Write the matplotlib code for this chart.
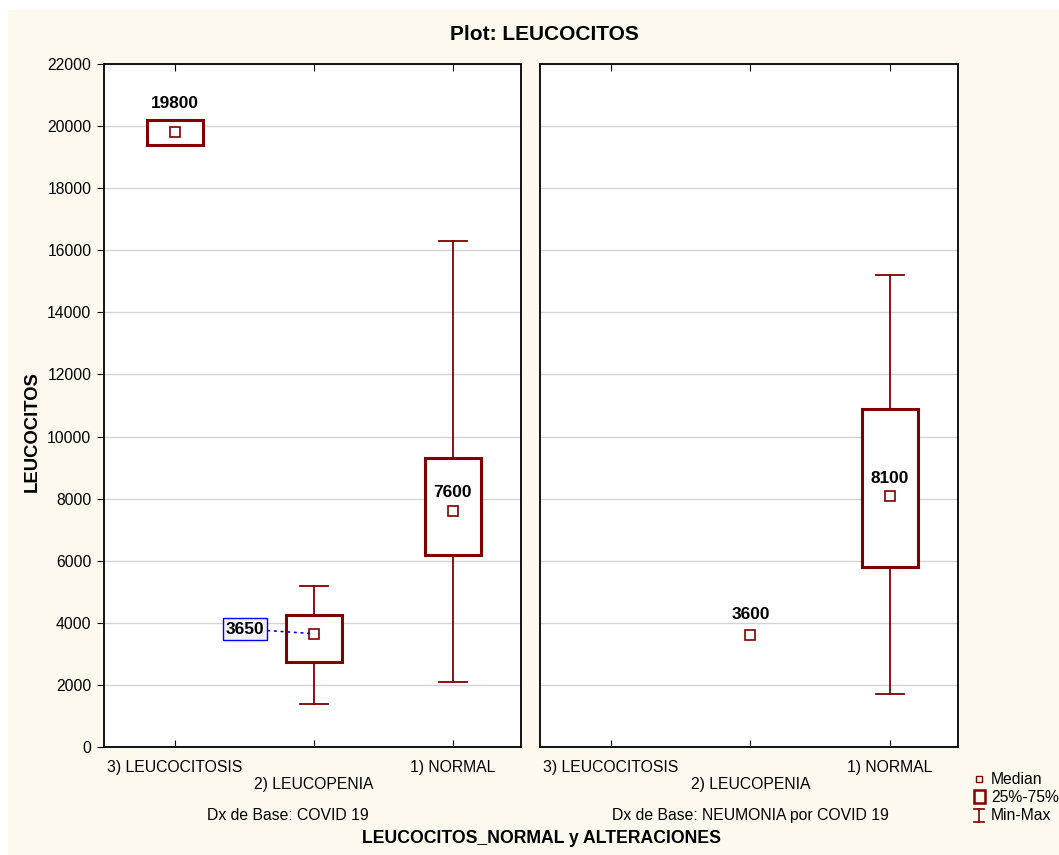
import matplotlib
matplotlib.use("Agg")
import matplotlib.pyplot as plt
from matplotlib.patches import Rectangle
from matplotlib.lines import Line2D

plt.rcParams['font.family'] = ['Liberation Sans', 'DejaVu Sans']

categories = ["3) LEUCOCITOSIS", "2) LEUCOPENIA", "1) NORMAL"]
panels = ["Dx de Base: COVID 19", "Dx de Base: NEUMONIA por COVID 19"]
# per panel: median, q1, q3, min, max (None = no data)
medians = [[19800, 3650, 7600], [None, 3600, 8100]]
q1s = [[19400, 2750, 6200], [None, 3600, 5800]]
q3s = [[20200, 4250, 9300], [None, 3600, 10900]]
mins = [[19400, 1400, 2100], [None, 3600, 1700]]
maxs = [[20200, 5200, 16300], [None, 3600, 15200]]
yticks = list(range(0, 22001, 2000))

W, H = 1059, 855
fig = plt.figure(figsize=(W / 100, H / 100), dpi=100)
fig.patch.set_facecolor("white")
fig.add_artist(Rectangle((8 / W, 0), 1 - 8 / W, 1 - 10 / H, transform=fig.transFigure,
                         facecolor="#FDF9EE", edgecolor="none", zorder=-10))

def px(x0, y0, x1, y1):
    return [x0 / W, 1 - y1 / H, (x1 - x0) / W, (y1 - y0) / H]

axes = [fig.add_axes(px(104, 64, 521, 747)), fig.add_axes(px(540, 64, 958, 747))]
RED = "#800000"
FS = 11.3
bw = 0.4
cw = 0.2

for p, ax in enumerate(axes):
    ax.set_facecolor("white")
    ax.set_xlim(-0.51, 2.49)
    ax.set_ylim(0, 22000)
    ax.set_yticks(yticks)
    ax.grid(axis="y", color="#D4D4D4", lw=1, zorder=0)
    ax.set_axisbelow(True)
    for s in ax.spines.values():
        s.set_linewidth(1.3)
    ax.set_xticks(range(len(categories)))
    ax.set_xticklabels([c if i != 1 else "\n" + c for i, c in enumerate(categories)], fontsize=FS)
    ax.tick_params(axis="x", direction="in", top=True, bottom=True, length=5, pad=9)
    if p == 0:
        ax.tick_params(axis="y", direction="out", length=5, labelsize=FS, pad=4)
    else:
        ax.tick_params(axis="y", left=False, labelleft=False)
    for i in range(len(categories)):
        m = medians[p][i]
        if m is None:
            continue
        lo, hi, mn, mx = q1s[p][i], q3s[p][i], mins[p][i], maxs[p][i]
        if mx > hi:
            ax.plot([i, i], [hi, mx], color=RED, lw=1.3, zorder=3)
            ax.plot([i - cw / 2, i + cw / 2], [mx, mx], color=RED, lw=1.3, zorder=3)
        if mn < lo:
            ax.plot([i, i], [mn, lo], color=RED, lw=1.3, zorder=3)
            ax.plot([i - cw / 2, i + cw / 2], [mn, mn], color=RED, lw=1.3, zorder=3)
        if hi > lo:
            ax.add_patch(Rectangle((i - bw / 2, lo), bw, hi - lo, facecolor="white",
                                   edgecolor=RED, lw=2.2, zorder=4))
        ax.plot([i], [m], marker="s", ms=7, mfc="white", mec=RED, mew=1.2, zorder=5)

lab_kw = dict(fontsize=12.4, fontweight="bold", ha="center", va="center", zorder=7)
axes[0].text(0, 20740, "19800", **lab_kw)
axes[0].text(2, 8210, "7600", **lab_kw)
axes[1].text(1, 4280, "3600", **lab_kw)
axes[1].text(2, 8660, "8100", **lab_kw)
axes[0].annotate("3650", xy=(1, 3650), xytext=(0.504, 3800), fontsize=12.4, fontweight="bold",
                 ha="center", va="center",
                 bbox=dict(boxstyle="square,pad=0.18", fc="#F3F3F8", ec="blue", lw=1),
                 arrowprops=dict(arrowstyle="-", color="blue", ls=(0, (1, 3)), lw=1.2,
                                 shrinkA=0, shrinkB=0), zorder=7)

fig.text(544 / W, 1 - 35 / H, "Plot: LEUCOCITOS", fontsize=15, fontweight="bold",
         ha="center", va="center")
fig.text(32 / W, 1 - 432 / H, "LEUCOCITOS", fontsize=13.3, fontweight="bold",
         ha="center", va="center", rotation=90)
fig.text(288 / W, 1 - 815 / H, panels[0], fontsize=FS, ha="center", va="center")
fig.text(750 / W, 1 - 815 / H, panels[1], fontsize=FS, ha="center", va="center")
fig.text(542 / W, 1 - 838 / H, "LEUCOCITOS_NORMAL y ALTERACIONES", fontsize=12.7,
         fontweight="bold", ha="center", va="center")

# legend
def fx(x):
    return x / W
def fy(y):
    return 1 - y / H
fig.add_artist(Line2D([fx(979)], [fy(779)], marker="s", ms=5, mfc="white", mec=RED,
                      mew=1.0, transform=fig.transFigure))
fig.add_artist(Rectangle((fx(974), fy(803)), 11 / W, 13 / H, transform=fig.transFigure,
                         fc="none", ec=RED, lw=1.8))
fig.add_artist(Line2D([fx(979), fx(979)], [fy(809), fy(822)], color=RED, lw=1.2,
                      transform=fig.transFigure))
for yy in (809, 822):
    fig.add_artist(Line2D([fx(974), fx(984)], [fy(yy), fy(yy)], color=RED, lw=1.2,
                          transform=fig.transFigure))
for yy, t in ((780, "Median"), (797, "25%-75%"), (815, "Min-Max")):
    fig.text(fx(991), fy(yy), t, fontsize=FS, ha="left", va="center")

fig.savefig("out.png", dpi=100, facecolor=fig.get_facecolor())
